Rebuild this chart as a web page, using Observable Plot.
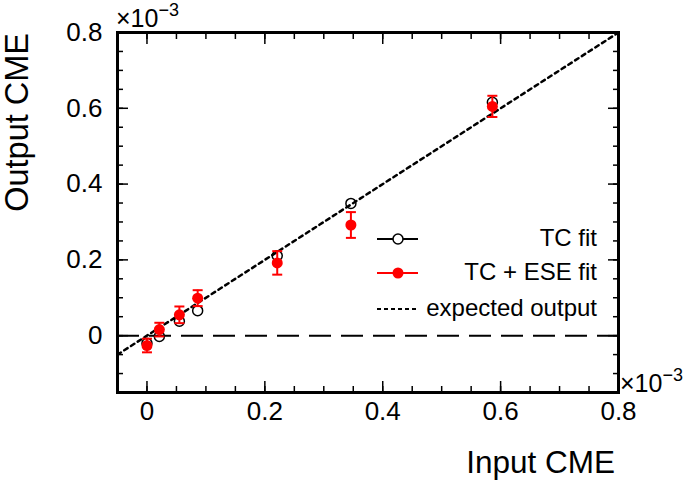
<!DOCTYPE html>
<html><head><meta charset="utf-8">
<script src="https://cdn.jsdelivr.net/npm/d3@7"></script>
<script src="https://cdn.jsdelivr.net/npm/@observablehq/plot@0.6"></script>
<style>html,body{margin:0;padding:0;background:#fff;} svg{display:block}</style>
</head><body><div id="chart"></div>
<script>
// ---- data (values in units of 10^-3) ----
const inputCME  = [0.000, 0.021, 0.055, 0.086, 0.221, 0.346, 0.586];
const tcFit     = [-0.020, -0.002, 0.038, 0.066, 0.211, 0.349, 0.616];
const tcEseFit  = [-0.026, 0.016, 0.055, 0.099, 0.192, 0.292, 0.605];
const tcEseErr  = [0.018, 0.018, 0.022, 0.021, 0.031, 0.034, 0.028];
const expectedX = [-0.05, 0.8];
const majorTicks = [0, 0.2, 0.4, 0.6, 0.8];
const minorTicksX = [-0.05,0,0.05,0.1,0.15,0.2,0.25,0.3,0.35,0.4,0.45,0.5,0.55,0.6,0.65,0.7,0.75,0.8];
const minorTicksY = [-0.15,-0.1,-0.05,0,0.05,0.1,0.15,0.2,0.25,0.3,0.35,0.4,0.45,0.5,0.55,0.6,0.65,0.7,0.75,0.8];
const seriesNames = ["TC fit", "TC + ESE fit", "expected output"];
const xTitle = "Input CME", yTitle = "Output CME";

const tcRows = inputCME.map((x, i) => ({x, y: tcFit[i]}));
const eseRows = inputCME.map((x, i) => ({x, y: tcEseFit[i], lo: tcEseFit[i] - tcEseErr[i], hi: tcEseFit[i] + tcEseErr[i]}));
const expRows = expectedX.map(x => ({x, y: x}));

const fmt = d => d === 0 ? "0" : d3.format(".1f")(d);
const capSymbol = {draw(ctx, size) { const w = Math.sqrt(size / Math.PI); ctx.moveTo(-w, 0); ctx.lineTo(w, 0); }};
const RED = "#ff0000";

const W = 685, H = 484;
const plot = Plot.plot({
  width: W, height: H,
  marginLeft: 117, marginRight: 67, marginTop: 32, marginBottom: 92,
  x: {domain: [-0.05, 0.8]},
  y: {domain: [-0.15, 0.8]},
  style: {fontFamily: "'Liberation Sans', Arial, sans-serif", color: "#000", background: "#fff", overflow: "visible"},
  marks: [
    Plot.ruleY([0], {stroke: "#000", strokeWidth: 2, strokeDasharray: "22,10"}),
    Plot.line(expRows, {x: "x", y: "y", stroke: "#000", strokeWidth: 2.5, strokeDasharray: "4,4"}),
    Plot.dot(tcRows, {x: "x", y: "y", r: 5, stroke: "#000", strokeWidth: 1.5, fill: "none"}),
    Plot.ruleX(eseRows, {x: "x", y1: "lo", y2: "hi", stroke: RED, strokeWidth: 2}),
    Plot.dot(eseRows, {x: "x", y: "lo", r: 5, symbol: capSymbol, stroke: RED, strokeWidth: 2}),
    Plot.dot(eseRows, {x: "x", y: "hi", r: 5, symbol: capSymbol, stroke: RED, strokeWidth: 2}),
    Plot.dot(eseRows, {x: "x", y: "y", r: 5.5, fill: RED, stroke: "none"}),
    // inward ticks, all four sides
    Plot.axisX(minorTicksX, {anchor: "bottom", tickSize: -6, fill: "none", strokeWidth: 1.5, label: null}),
    Plot.axisX(majorTicks, {anchor: "bottom", tickSize: -11, fill: "none", strokeWidth: 1.5, label: null}),
    Plot.axisX(minorTicksX, {anchor: "top", tickSize: -6, fill: "none", strokeWidth: 1.5, label: null}),
    Plot.axisX(majorTicks, {anchor: "top", tickSize: -11, fill: "none", strokeWidth: 1.5, label: null}),
    Plot.axisY(minorTicksY, {anchor: "left", tickSize: -6, fill: "none", strokeWidth: 1.5, label: null}),
    Plot.axisY(majorTicks, {anchor: "left", tickSize: -11, fill: "none", strokeWidth: 1.5, label: null}),
    Plot.axisY(minorTicksY, {anchor: "right", tickSize: -6, fill: "none", strokeWidth: 1.5, label: null}),
    Plot.axisY(majorTicks, {anchor: "right", tickSize: -11, fill: "none", strokeWidth: 1.5, label: null}),
    // tick labels
    Plot.axisX(majorTicks, {anchor: "bottom", tickSize: 0, tickPadding: 9, fontSize: 26, tickFormat: fmt, label: null}),
    Plot.axisY(majorTicks, {anchor: "left", tickSize: 0, tickPadding: 15, fontSize: 26, tickFormat: fmt, label: null}),
    Plot.frame({stroke: "#000", strokeWidth: 3})
  ]
});
document.getElementById("chart").appendChild(plot);

const svg = d3.select(plot);
const font = "'Liberation Sans', Arial, sans-serif";
// axis titles
svg.append("text").attr("x", 615).attr("y", 473).attr("text-anchor", "end")
  .attr("font-family", font).attr("font-size", 31.5).attr("fill", "#000").text(xTitle);
svg.append("text").attr("transform", "translate(28,33) rotate(-90)").attr("text-anchor", "end")
  .attr("font-family", font).attr("font-size", 32.5).attr("fill", "#000").text(yTitle);
// exponent labels
function expo(x, y) {
  const t = svg.append("text").attr("x", x).attr("y", y).attr("text-anchor", "start")
    .attr("font-family", font).attr("font-size", 25).attr("fill", "#000");
  t.append("tspan").text("\u00d710");
  t.append("tspan").attr("font-size", 18).attr("dy", -11).text("\u22123");
}
expo(116, 27);
expo(620, 392);

// legend
const lg = svg.append("g").attr("font-family", font).attr("font-size", 24).attr("fill", "#000");
const lx0 = 377, lx1 = 418, lxm = 398, tx = 597;
const rowsY = [239, 273, 309];
lg.append("line").attr("x1", lx0).attr("x2", lx1).attr("y1", rowsY[0]).attr("y2", rowsY[0]).attr("stroke", "#000").attr("stroke-width", 2);
lg.append("circle").attr("cx", lxm).attr("cy", rowsY[0]).attr("r", 5).attr("fill", "#fff").attr("stroke", "#000").attr("stroke-width", 1.5);
lg.append("line").attr("x1", lx0).attr("x2", lx1).attr("y1", rowsY[1]).attr("y2", rowsY[1]).attr("stroke", RED).attr("stroke-width", 2);
lg.append("circle").attr("cx", lxm).attr("cy", rowsY[1]).attr("r", 5.5).attr("fill", RED);
lg.append("line").attr("x1", lx0).attr("x2", lx1).attr("y1", rowsY[2]).attr("y2", rowsY[2]).attr("stroke", "#000").attr("stroke-width", 2).attr("stroke-dasharray", "4,3");
seriesNames.forEach((s, i) => {
  lg.append("text").attr("x", tx).attr("y", rowsY[i] + 7).attr("text-anchor", "end").text(s);
});
</script>
</body></html>
